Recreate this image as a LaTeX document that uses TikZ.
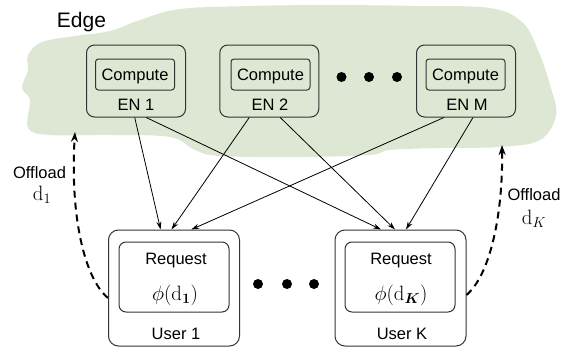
\documentclass[tikz,border=0pt]{standalone}
\usepackage{amsmath}
\usepackage[no-math]{fontspec}
\setmainfont{Liberation Sans}
\usetikzlibrary{arrows.meta}
\definecolor{cloudgreen}{HTML}{DEE7D3}
\definecolor{boxline}{HTML}{333333}
\begin{document}
\begin{tikzpicture}[x=1pt,y=-1pt,
  enbox/.style={draw=boxline, line width=1pt, rounded corners=8pt, minimum width=99pt, minimum height=72pt, inner sep=0pt},
  compbox/.style={draw=boxline, line width=1pt, rounded corners=3pt, minimum width=79pt, minimum height=31pt, inner sep=0pt, text height=11.8pt, text depth=0pt, font=\fontsize{16.5}{18}\selectfont},
  lbl/.style={inner sep=0pt, anchor=base, font=\fontsize{16.5}{18}\selectfont},
  userbox/.style={draw=boxline, line width=1pt, rounded corners=10pt, minimum width=131pt, minimum height=116pt, inner sep=0pt},
  reqbox/.style={draw=boxline, line width=1pt, rounded corners=7pt, minimum width=110pt, minimum height=70pt, inner sep=0pt},
  link/.style={-{Stealth[length=8pt,width=5pt]}, line width=0.8pt},
  offload/.style={-{Stealth[length=10pt,width=7pt]}, line width=2pt, dash pattern=on 7pt off 5pt},
  dotnode/.style={circle, fill=black, minimum size=10pt, inner sep=0pt},
  mathlbl/.style={inner sep=0pt, anchor=base, font=\fontsize{20}{22}\selectfont},
]
\useasboundingbox (0,0) rectangle (565,348);
% cloud
\fill[cloudgreen] plot[smooth cycle, tension=0.6] coordinates {
 (28,55) (42,42) (75,36) (110,31) (140,20) (180,9) (250,6) (330,5) (420,6) (490,8)
 (522,22) (538,50) (550,85) (556,115) (540,140) (500,147) (440,148) (390,150)
 (370,155) (300,157) (220,156) (195,150) (170,137) (110,135) (50,135) (28,128)
 (30,100) (22,88) (28,70)};
\node[inner sep=0pt, anchor=base, font=\fontsize{21}{24}\selectfont] (edge) at (81.5,27.7) {Edge};

% edge nodes
\node[enbox] (en1) at (136,81) {};
\node[compbox] (c1) at (135,74.5) {Compute};
\node[lbl] (l1) at (136,110) {EN 1};
\node[enbox] (en2) at (269.25,81) {};
\node[compbox] (c2) at (270.5,74.5) {Compute};
\node[lbl] (l2) at (270,110) {EN 2};
\node[enbox] (enm) at (466,81) {};
\node[compbox] (cm) at (465.5,74.5) {Compute};
\node[lbl] (lm) at (467,110) {EN M};
\node[dotnode] (d1) at (341.5,77) {};
\node[dotnode] (d2) at (369,77) {};
\node[dotnode] (d3) at (397,77) {};

% users
\node[userbox] (u1) at (174,288) {};
\node[reqbox] (r1) at (174,277) {};
\node[lbl] (rq1) at (176,264) {Request};
\node[mathlbl] (p1) at (175,300.5) {$\phi(\mathrm{d}_{\mathbf{1}})$};
\node[lbl] (ul1) at (176,339) {User 1};
\node[userbox] (uk) at (400.5,288) {};
\node[reqbox] (rk) at (400,277) {};
\node[lbl] (rqk) at (401,264) {Request};
\node[mathlbl] (pk) at (401,300.5) {$\phi(\mathrm{d}_{\boldsymbol{K}})$};
\node[lbl] (ulk) at (402,339) {User K};
\node[dotnode] (e1) at (258,284) {};
\node[dotnode] (e2) at (287,284) {};
\node[dotnode] (e3) at (314,284) {};

% links
\draw[link] ([xshift=-1.3pt]en1.south) -- ([xshift=-13.4pt]u1.north);
\draw[link] ([xshift=10.2pt]en1.south) -- ([xshift=-19.5pt]uk.north);
\draw[link] ([xshift=-20pt]en2.south) -- ([xshift=-2.5pt]u1.north);
\draw[link] ([xshift=11pt]en2.south) -- ([xshift=-5.5pt]uk.north);
\draw[link] ([xshift=-22pt]enm.south) -- ([xshift=17.3pt]u1.north);
\draw[link] ([xshift=7pt]enm.south) -- ([xshift=5.5pt]uk.north);

% offload
\coordinate (tl) at (75,132);
\coordinate (tr) at (502,145);
\draw[offload] ([yshift=-10pt]u1.west) .. controls (84,278) and (70,215) .. (tl);
\draw[offload] ([yshift=-7pt]uk.east) .. controls (490,275) and (503,215) .. (tr);
\node[lbl] (ol) at (39.5,178) {Offload};
\node[mathlbl] (dl) at (42,200) {$\mathrm{d}_1$};
\node[lbl] (or) at (534,200) {Offload};
\node[mathlbl] (dr) at (534,224) {$\mathrm{d}_K$};
\end{tikzpicture}
\end{document}
